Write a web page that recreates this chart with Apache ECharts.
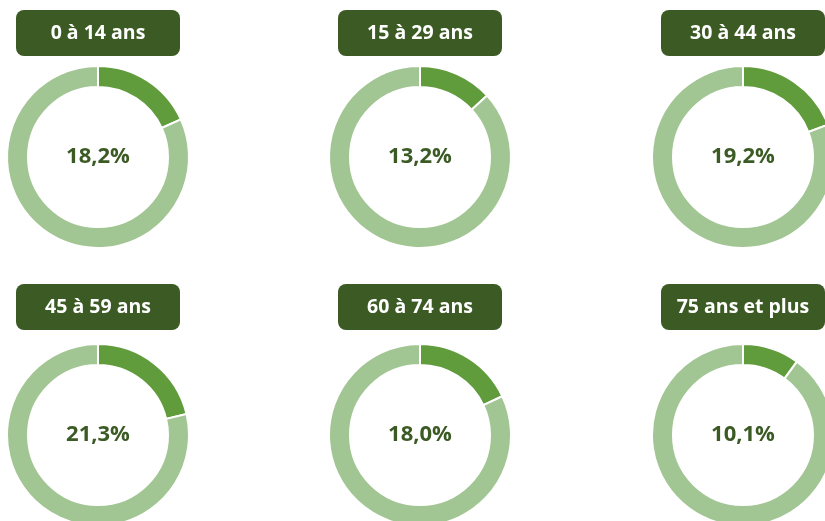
<!DOCTYPE html>
<html>
<head>
<meta charset="utf-8">
<script src="https://cdn.jsdelivr.net/npm/echarts@6/dist/echarts.min.js"></script>
<style>
  html, body { margin: 0; padding: 0; background: #fff; }
  #chart { width: 825px; height: 521px; }
</style>
</head>
<body>
<div id="chart"></div>
<script>
// tranches d'âge et part (%)
const categories = ['0 à 14 ans', '15 à 29 ans', '30 à 44 ans', '45 à 59 ans', '60 à 74 ans', '75 ans et plus']
const shares = [18.2, 13.2, 19.2, 21.3, 18.0, 10.1]

const colX = [98, 420, 743]
const rowY = [157, 435]
const boxTop = [8, 282]

const chart = echarts.init(document.getElementById('chart'))

const titles = []
const series = []

categories.forEach((name, i) => {
  const col = i % 3
  const row = Math.floor(i / 3)
  const value = shares[i]

  titles.push({
    text: '{box|' + name + '}',
    left: colX[col],
    top: boxTop[row],
    textAlign: 'center',
    padding: 0,
    textStyle: {
      rich: {
        box: {
          width: 164,
          height: 46,
          lineHeight: 50,
          align: 'center',
          verticalAlign: 'middle',
          backgroundColor: '#3B5A24',
          borderRadius: 8,
          color: '#fff',
          fontSize: 19.5,
          fontWeight: 'bold',
          fontFamily: 'Open Sans'
        }
      }
    }
  })

  series.push({
    type: 'pie',
    center: [colX[col], rowY[row]],
    radius: [70, 91],
    startAngle: 90,
    clockwise: true,
    silent: true,
    label: { show: false },
    labelLine: { show: false },
    itemStyle: { borderColor: '#fff', borderWidth: 2 },
    data: [
      {
        value: value,
        itemStyle: { color: '#609B3C' },
        label: {
          show: true,
          position: 'center',
          formatter: value.toFixed(1).replace('.', ',') + '%',
          color: '#3B5A24',
          fontSize: 22,
          fontWeight: 'bold',
          fontFamily: 'Open Sans'
        }
      },
      { value: +(100 - value).toFixed(1), itemStyle: { color: '#A2C693' } }
    ]
  })
})

chart.setOption({
  animation: false,
  backgroundColor: '#fff',
  title: titles,
  series: series
})
</script>
</body>
</html>
